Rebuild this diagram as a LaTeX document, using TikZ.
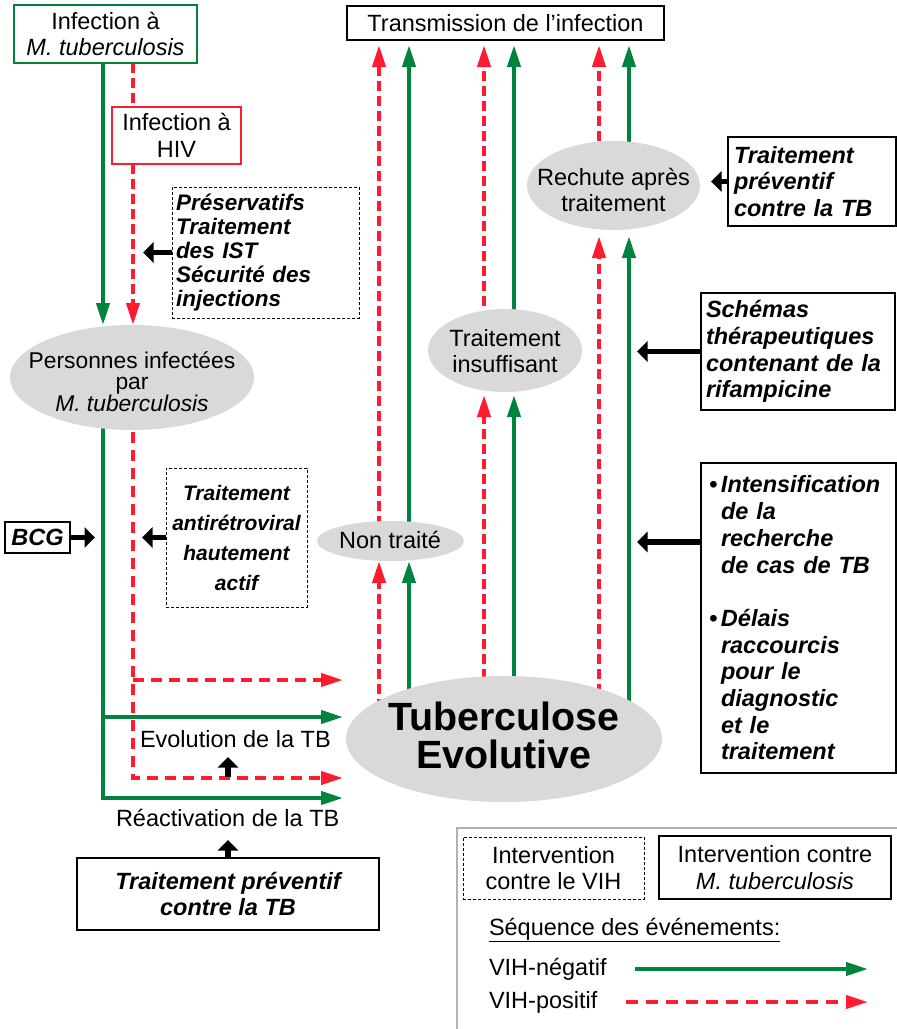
\documentclass[tikz,border=0pt]{standalone}
\usepackage{fontspec}
\setmainfont{Liberation Sans}
\usetikzlibrary{arrows.meta,shapes.geometric,backgrounds}
\definecolor{tbgreen}{RGB}{0,132,61}
\definecolor{tbred}{RGB}{255,28,48}
\definecolor{ellgray}{RGB}{217,217,217}
\begin{document}
\begin{tikzpicture}[x=1pt,y=-1pt,
  every node/.style={inner sep=0pt, outer sep=0pt},
  txt/.style={font=\fontsize{23.5}{26.7}\selectfont, align=center},
  bitxt/.style={font=\fontsize{23.5}{26.7}\selectfont\bfseries\itshape},
  solidbox/.style={draw=black, line width=1.5pt},
  dashbox/.style={draw=black, line width=1pt, dash pattern=on 3pt off 2pt},
  ellnode/.style={ellipse, fill=ellgray, draw=none},
  gar/.style={draw=tbgreen, line width=4pt, -{Triangle[length=22pt,width=13pt]}},
  rar/.style={draw=tbred, line width=4pt, dash pattern=on 10pt off 5pt, -{Triangle[length=22pt,width=13pt]}},
  gln/.style={draw=tbgreen, line width=4pt},
  rln/.style={draw=tbred, line width=4pt, dash pattern=on 10pt off 5pt},
  bar/.style={draw=black, line width=5.5pt, -{Triangle[length=10.5pt,width=20pt]}}
]
\useasboundingbox (0,0) rectangle (897,1029);

% ---------- column coordinates ----------
\coordinate (gx) at (103,0);
\coordinate (rx) at (133,0);
\coordinate (xar) at (379,0);
\coordinate (xag) at (409,0);
\coordinate (xbr) at (484,0);
\coordinate (xbg) at (514,0);
\coordinate (xcr) at (599,0);
\coordinate (xcg) at (629,0);
\coordinate (r1) at (133,680);
\coordinate (g1) at (103,717);
\coordinate (r2) at (133,778);
\coordinate (g2) at (103,798);

% ---------- left boxes ----------
\node[draw=tbgreen, line width=1.2pt, minimum width=183pt, minimum height=58pt, txt] (mtb) at (105.5,34) {Infection à\\\textit{M. tuberculosis}};
\node[draw=tbred, line width=1.2pt, minimum width=129pt, minimum height=57pt, txt] (hiv) at (176.5,135.5) {Infection à\\HIV};
\node[dashbox, minimum width=187pt, minimum height=131pt, text width=179pt, align=left,
      font=\fontsize{22.5}{23.8}\selectfont\bfseries\itshape] (pres) at (265.5,252.5)
      {Préservatifs\\Traitement\\des IST\\Sécurité des\\injections};
\node[dashbox, minimum width=141pt, minimum height=139pt, align=center,
      font=\fontsize{21}{30}\selectfont\bfseries\itshape] (art) at (236.5,537.5)
      {Traitement\\antirétroviral\\hautement\\actif};
\node[solidbox, minimum width=65pt, minimum height=31pt, bitxt] (bcg) at (37.5,537.5) {BCG};
\node[solidbox, minimum width=302pt, minimum height=72pt, bitxt, align=center] (tpb) at (228,894) {Traitement préventif\\contre la TB};

% ---------- ellipses ----------
\node[ellnode, minimum width=244pt, minimum height=105pt] (pers) at (132,377.5) {};
\node[txt, font=\fontsize{22.8}{21.5}\selectfont] (perst) at (132,381.5) {Personnes infectées\\par\\\textit{M. tuberculosis}};
\node[ellnode, minimum width=173pt, minimum height=89pt] (rech) at (613.5,185.5) {};
\node[txt] (recht) at (613.5,190) {Rechute après\\traitement};
\node[ellnode, minimum width=154pt, minimum height=83pt] (ti) at (505,350.5) {};
\node[txt] (tit) at (505,351) {Traitement\\insuffisant};
\node[ellnode, minimum width=147pt, minimum height=40pt] (nt) at (390.5,541) {};
\node[txt] (ntt) at (390,540) {Non traité};
\node[ellnode, minimum width=316pt, minimum height=126pt] (tb) at (504,739) {};
\node[font=\fontsize{39.4}{38}\selectfont\bfseries, align=center] (tbt) at (504,735.5) {Tuberculose\\Evolutive};

% ---------- top and right boxes ----------
\node[solidbox, minimum width=317pt, minimum height=34pt, txt] (trans) at (505.5,23) {Transmission de l’infection};
\node[solidbox, minimum width=168pt, minimum height=89pt, text width=156pt, align=left, bitxt] (tp2) at (812,181.5)
      {Traitement\\préventif\\contre la TB};
\node[solidbox, minimum width=194pt, minimum height=117pt, text width=184pt, align=left, bitxt] (sch) at (798,351.5)
      {Schémas\\thérapeutiques\\contenant de la\\rifampicine};
\node[solidbox, minimum width=195pt, minimum height=310pt, text width=181pt, align=left, bitxt] (int) at (798.5,618)
      {\makebox[13pt][l]{\hspace{1pt}•}Intensification\\\hspace*{13pt}de la\\\hspace*{13pt}recherche\\\hspace*{13pt}de cas de TB\\[26.7pt]
       \makebox[13pt][l]{\hspace{1pt}•}Délais\\\hspace*{13pt}raccourcis\\\hspace*{13pt}pour le\\\hspace*{13pt}diagnostic\\\hspace*{13pt}et le\\\hspace*{13pt}traitement};

% ---------- labels ----------
\node[txt, anchor=base west] (evo) at (140,747) {Evolution de la TB};
\node[txt, anchor=base west] (reac) at (116,826) {Réactivation de la TB};

% ---------- connectors (behind the ellipses) ----------
\begin{scope}[on background layer]
\draw[gar] (mtb.south -| gx) -- (pers.north -| gx);
\draw[rln] (mtb.south -| rx) -- (hiv.north -| rx);
\draw[rar] (hiv.south -| rx) -- (pers.north -| rx);
\draw[gar, shorten >=3pt] (pers.center -| gx) |- (tb.west |- g2);
\draw[gar, shorten >=3pt] (g1) -- (tb.west |- g1);
\draw[rar, shorten >=3pt, dash pattern=on 11pt off 7pt] (pers.center -| rx) |- (tb.west |- r2);
\draw[rar, shorten >=3pt, dash pattern=on 11pt off 7pt] (r1) -- (tb.west |- r1);
% column A
\draw[rar] (tb.center -| xar) -- (nt.south -| xar);
\draw[gar] (tb.center -| xag) -- (nt.south -| xag);
\draw[rar, shorten >=5pt] (nt.center -| xar) -- (trans.south -| xar);
\draw[gar, shorten >=5pt] (nt.center -| xag) -- (trans.south -| xag);
% column B
\draw[rar, shorten >=3pt] (tb.center -| xbr) -- (ti.south -| xbr);
\draw[gar, shorten >=3pt] (tb.center -| xbg) -- (ti.south -| xbg);
\draw[rar, shorten >=5pt] (ti.center -| xbr) -- (trans.south -| xbr);
\draw[gar, shorten >=5pt] (ti.center -| xbg) -- (trans.south -| xbg);
% column C
\draw[rar, shorten >=6pt] (tb.center -| xcr) -- (rech.south -| xcr);
\draw[gar, shorten >=6pt] (tb.center -| xcg) -- (rech.south -| xcg);
\draw[rar, shorten >=5pt] (rech.center -| xcr) -- (trans.south -| xcr);
\draw[gar, shorten >=5pt] (rech.center -| xcg) -- (trans.south -| xcg);
\end{scope}

% ---------- legend ----------
\draw[gray!60, line width=1.2pt] (457,1040) |- (905,828);
\node[dashbox, minimum width=181pt, minimum height=62pt, txt] (lvih) at (553.5,868) {Intervention\\contre le VIH};
\node[solidbox, line width=1.2pt, minimum width=232pt, minimum height=63pt, txt] (lmtb) at (775,867.5) {Intervention contre\\\textit{M. tuberculosis}};
\node[txt, anchor=base west] (seq) at (489,935) {\underline{Séquence des événements:}};
\node[txt, anchor=base west] (neg) at (489,975) {VIH-négatif};
\node[txt, anchor=base west] (pos) at (489,1008) {VIH-positif};
\coordinate (lga) at (635,969);
\coordinate (lgb) at (868,969);
\coordinate (lra) at (626,1002);
\coordinate (lrb) at (868,1002);
\draw[gar] (lga) -- (lgb);
\draw[rar, dash pattern=on 12pt off 8pt] (lra) -- (lrb);

% ---------- intervention arrows ----------
\coordinate (evb) at (228,777);
\coordinate (intarr) at (701,542);
\draw[bar] (pres.west) -- ++(-29,0);
\draw[bar] (art.west) -- ++(-24,0);
\draw[bar] (bcg.east) -- ++(25,0);
\draw[bar] (tp2.west) -- ++(-17,0);
\draw[bar] (sch.west) -- ++(-64,0);
\draw[bar] (intarr) -- ++(-64,0);
\draw[bar] (tpb.north) -- ++(0,-18);
\draw[bar] (evb) -- ++(0,-20);
\end{tikzpicture}
\end{document}
